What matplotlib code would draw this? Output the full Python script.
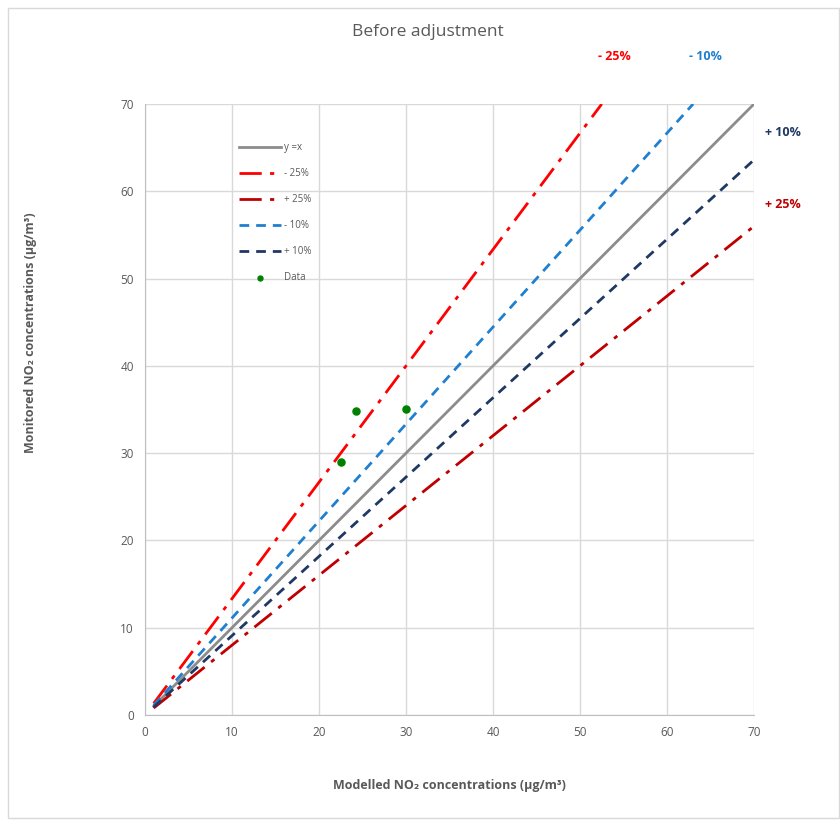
import matplotlib
matplotlib.use("Agg")
import matplotlib.pyplot as plt
from matplotlib.patches import Rectangle

# Data
yx_x = [1, 70]
yx_y = [1, 70]
m25_x = [1, 52.5]
m25_y = [1.33, 70]
p25_x = [1, 70]
p25_y = [0.8, 56]
m10_x = [1, 63]
m10_y = [1.11, 70]
p10_x = [1, 70]
p10_y = [0.91, 63.6]
data_x = [22.5, 24.2, 30.0]
data_y = [29.0, 34.8, 35.0]

xticks = [0, 10, 20, 30, 40, 50, 60, 70]
yticks = [0, 10, 20, 30, 40, 50, 60, 70]

plt.rcParams['font.family'] = ['Open Sans', 'DejaVu Sans']
grey = '#595959'

fig = plt.figure(figsize=(8.4, 8.21), dpi=100)
fig.patches.append(Rectangle((8/840, 3/821), 831/840, 810/821, transform=fig.transFigure,
                             fill=False, edgecolor='#D9D9D9', linewidth=1.0))
ax = fig.add_axes([145/840, 1 - 715/821, 609/840, 611/821])

ax.plot(yx_x, yx_y, color='#8C8C8C', lw=2.0, label='y =x', zorder=3)
ax.plot(m25_x, m25_y, color='#FF0000', lw=2.0, dashes=(8, 3, 1.5, 3), label='- 25%', zorder=3)
ax.plot(p25_x, p25_y, color='#C00000', lw=2.0, dashes=(8, 3, 1.5, 3), label='+ 25%', zorder=3)
ax.plot(m10_x, m10_y, color='#1F80D0', lw=2.0, dashes=(3.5, 2.5), label='- 10%', zorder=3)
ax.plot(p10_x, p10_y, color='#1F3864', lw=2.0, dashes=(3.5, 2.5), label='+ 10%', zorder=3)
ax.scatter(data_x, data_y, color='#008000', s=26, zorder=4, label='Data')

ax.set_xlim(0, 70)
ax.set_ylim(0, 70)
ax.set_xticks(xticks)
ax.set_yticks(yticks)
ax.grid(True, color='#D9D9D9', lw=1.0)
ax.set_axisbelow(True)
for s in ['top', 'right']:
    ax.spines[s].set_visible(False)
for s in ['left', 'bottom']:
    ax.spines[s].set_color('#BFBFBF')
ax.tick_params(length=0, colors=grey, labelsize=8.5, pad=8)

ax.set_xlabel('Modelled NO₂ concentrations (µg/m³)', fontsize=9, fontweight='bold',
              color=grey, va='center')
ax.xaxis.set_label_coords(0.5, -(785 - 715) / 611)
ax.set_ylabel('Monitored NO₂ concentrations (µg/m³)', fontsize=9, fontweight='bold',
              color=grey, va='center')
ax.yaxis.set_label_coords(-(145 - 30) / 609, (715 - 333) / 611)

leg = ax.legend(loc='upper left', bbox_to_anchor=(0.14, 0.952), frameon=False, fontsize=7,
                labelspacing=1.55, handlelength=4.3, handletextpad=0.3, labelcolor=grey,
                markerscale=0.7)

fig.text(428/840, 1 - 32/821, 'Before adjustment', ha='center', va='center', fontsize=12.5, color=grey)
fig.text(614/840, 1 - 57/821, '- 25%', ha='center', va='center', fontsize=9, color='#FF0000', fontweight='bold')
fig.text(705/840, 1 - 57/821, '- 10%', ha='center', va='center', fontsize=9, color='#1F80D0', fontweight='bold')
fig.text(783/840, 1 - 133/821, '+ 10%', ha='center', va='center', fontsize=9, color='#1F3864', fontweight='bold')
fig.text(783/840, 1 - 204/821, '+ 25%', ha='center', va='center', fontsize=9, color='#C00000', fontweight='bold')

fig.savefig('out.png', dpi=100)
